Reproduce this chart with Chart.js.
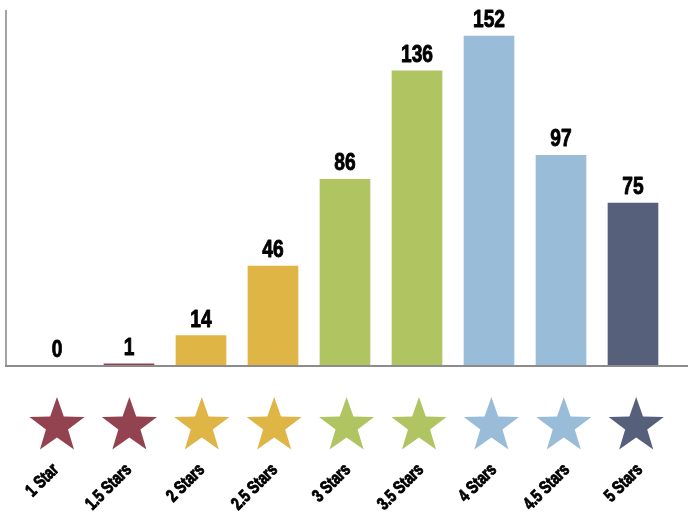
<!DOCTYPE html>
<html>
<head>
<meta charset="utf-8">
<script src="https://cdn.jsdelivr.net/npm/chart.js@4"></script>
<style>
  body { margin: 0; background: #fff; }
  #wrap { width: 688px; height: 512px; }
</style>
</head>
<body>
<div id="wrap"><canvas id="chart"></canvas></div>
<script>
var categories = ['1 Star', '1.5 Stars', '2 Stars', '2.5 Stars', '3 Stars', '3.5 Stars', '4 Stars', '4.5 Stars', '5 Stars'];
var counts = [0, 1, 14, 46, 86, 136, 152, 97, 75];
var colors = ['#93424f', '#93424f', '#dfb546', '#dfb546', '#b0c462', '#b0c462', '#99bcd9', '#99bcd9', '#57607a'];

var FONT = '"Liberation Sans", Arial, sans-serif';

function drawStar(ctx, cx, cy, r, color) {
  var inner = r * 0.4;
  ctx.beginPath();
  for (var k = 0; k < 10; k++) {
    var rad = k % 2 === 0 ? r : inner;
    var a = -Math.PI / 2 + k * Math.PI / 5;
    var px = cx + rad * Math.cos(a), py = cy + rad * Math.sin(a);
    if (k === 0) ctx.moveTo(px, py); else ctx.lineTo(px, py);
  }
  ctx.closePath();
  ctx.fillStyle = color;
  ctx.fill();
}

// condensed heavy look: squeeze bold text horizontally and thicken with a stroke
function narrowText(ctx, text, x, y, size, sx, align) {
  ctx.save();
  ctx.translate(x, y);
  ctx.scale(sx, 1);
  ctx.font = 'bold ' + size + 'px ' + FONT;
  ctx.textAlign = align;
  ctx.fillStyle = '#000';
  ctx.strokeStyle = '#000';
  ctx.lineWidth = 0.9;
  ctx.lineJoin = 'round';
  ctx.fillText(text, 0, 0);
  ctx.strokeText(text, 0, 0);
  ctx.restore();
}

var decor = {
  id: 'decor',
  afterDatasetsDraw: function(chart) {
    var ctx = chart.ctx, area = chart.chartArea;
    var xs = chart.scales.x, ys = chart.scales.y;
    ctx.save();
    // axis lines
    ctx.strokeStyle = '#a3a3a3';
    ctx.lineWidth = 2;
    ctx.beginPath();
    ctx.moveTo(area.left, area.top);
    ctx.lineTo(area.left, area.bottom);
    ctx.stroke();
    ctx.strokeStyle = '#8c8c8c';
    ctx.beginPath();
    ctx.moveTo(area.left - 1, area.bottom);
    ctx.lineTo(area.right, area.bottom);
    ctx.stroke();

    // value labels
    ctx.textBaseline = 'alphabetic';
    counts.forEach(function(v, i) {
      narrowText(ctx, String(v), xs.getPixelForValue(i), ys.getPixelForValue(v) - 9, 24, 0.8, 'center');
    });

    // stars and rotated category labels
    categories.forEach(function(c, i) {
      var cx = xs.getPixelForValue(i);
      drawStar(ctx, cx + i * 0.4, area.bottom + 60, 29, colors[i]);
      ctx.save();
      ctx.translate(cx - 1 + i, area.bottom + 101);
      ctx.rotate(-Math.PI / 4);
      ctx.textBaseline = 'middle';
      narrowText(ctx, c, 0, 0, 18, 0.76, 'right');
      ctx.restore();
    });
    ctx.restore();
  }
};

new Chart(document.getElementById('chart'), {
  type: 'bar',
  data: {
    datasets: [{
      data: counts.map(function(v, i) { return { x: i, y: v }; }),
      backgroundColor: colors,
      borderWidth: 0,
      barThickness: 50
    }]
  },
  options: {
    responsive: true,
    maintainAspectRatio: false,
    animation: false,
    layout: { padding: { left: 6, top: 10, right: 0, bottom: 146 } },
    plugins: { legend: { display: false }, tooltip: { enabled: false } },
    scales: {
      x: { type: 'linear', offset: false, min: -0.708, max: 8.764, display: false },
      y: { min: 0, max: 164, display: false }
    }
  },
  plugins: [decor]
});
</script>
</body>
</html>
